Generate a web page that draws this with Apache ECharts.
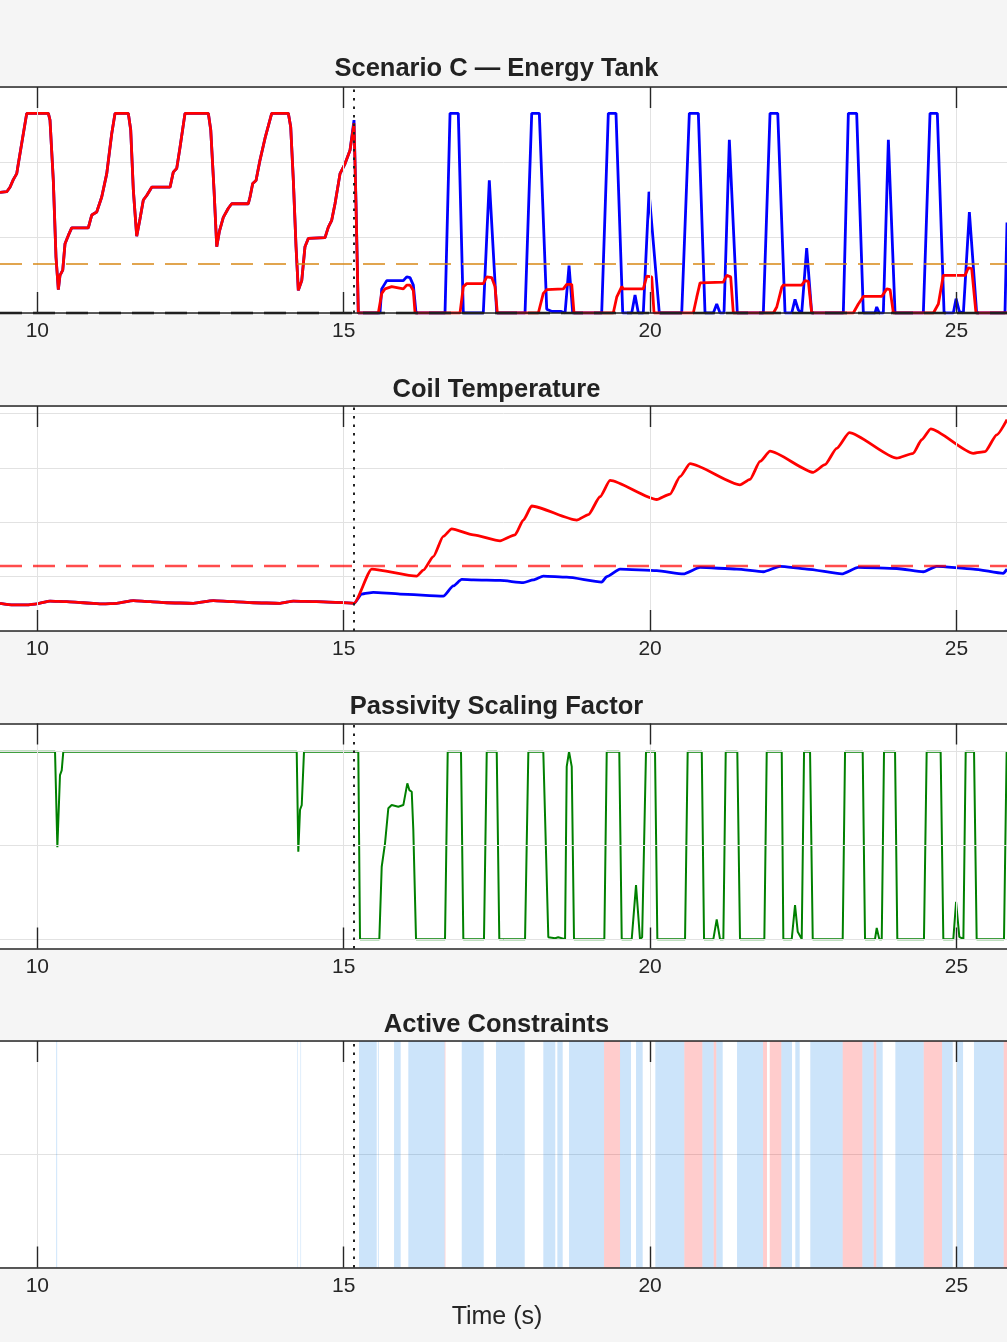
<!DOCTYPE html>
<html>
<head>
<meta charset="utf-8">
<script src="https://cdn.jsdelivr.net/npm/echarts@6/dist/echarts.min.js"></script>
<style>
html,body{margin:0;padding:0;background:#f5f5f5;}
#chart{width:1007px;height:1342px;}
</style>
</head>
<body>
<div id="chart"></div>
<script>
// ---------------- data ----------------
const timeTicks = [10, 15, 20, 25];
const timeMin = 9.391;
const timeMax = 25.824;
const switchTime = 15.168;

const panelTitles = ['Scenario C \u2014 Energy Tank', 'Coil Temperature', 'Passivity Scaling Factor', 'Active Constraints'];
const xAxisName = 'Time (s)';

// Energy tank (both runs identical before the switch)
const tankSharedBefore = [[9.391,1.60],[9.501,1.61],[9.554,1.67],[9.608,1.77],[9.664,1.85],[9.690,1.98],[9.745,2.25],[9.827,2.65],[10.180,2.65],[10.207,2.56],[10.261,1.76],[10.305,0.74],[10.343,0.31],[10.370,0.50],[10.415,0.57],[10.452,0.92],[10.506,1.03],[10.561,1.13],[10.832,1.13],[10.888,1.30],[10.969,1.34],[11.051,1.54],[11.133,1.85],[11.214,2.38],[11.268,2.65],[11.485,2.65],[11.524,2.43],[11.567,1.63],[11.622,1.02],[11.676,1.25],[11.730,1.50],[11.785,1.56],[11.867,1.67],[12.166,1.67],[12.219,1.87],[12.275,1.92],[12.329,2.20],[12.410,2.65],[12.791,2.65],[12.830,2.43],[12.884,1.63],[12.928,0.88],[12.970,1.08],[13.035,1.27],[13.117,1.39],[13.172,1.45],[13.443,1.45],[13.471,1.54],[13.515,1.72],[13.569,1.76],[13.634,2.03],[13.716,2.32],[13.825,2.65],[14.096,2.65],[14.135,2.47],[14.178,1.76],[14.222,0.88],[14.259,0.30],[14.315,0.43],[14.368,0.88],[14.422,0.99],[14.450,1.00],[14.695,1.00],[14.749,1.14],[14.804,1.23],[14.858,1.45],[14.940,1.85],[15.021,1.98],[15.103,2.16]];
const tankBlueAfter = [[15.168,2.56],[15.201,1.45],[15.238,0],[15.592,0],[15.620,0.32],[15.702,0.43],[15.728,0.43],[15.973,0.43],[16.028,0.48],[16.082,0.47],[16.136,0.37],[16.180,0],[16.653,0],[16.735,2.65],[16.870,2.65],[16.952,0],[17.278,0],[17.376,1.76],[17.497,0],[17.959,0],[18.068,2.65],[18.192,2.65],[18.313,0.05],[18.400,0.02],[18.550,0.02],[18.612,0],[18.677,0.63],[18.737,0],[19.210,0],[19.318,2.65],[19.443,2.65],[19.553,0],[19.700,0],[19.754,0.24],[19.808,0],[19.889,0],[19.982,1.61],[20.150,0],[20.516,0],[20.640,2.65],[20.787,2.65],[20.896,0],[21.032,0],[21.087,0.12],[21.141,0],[21.206,0],[21.293,2.30],[21.423,0],[21.848,0],[21.957,2.65],[22.083,2.65],[22.202,0],[22.311,0],[22.365,0.18],[22.419,0.04],[22.474,0],[22.555,0.86],[22.637,0],[23.153,0],[23.235,2.65],[23.371,2.65],[23.480,0],[23.670,0],[23.698,0.08],[23.740,0],[23.806,0],[23.888,2.30],[23.997,0],[24.459,0],[24.568,2.65],[24.687,2.65],[24.797,0],[24.948,0],[24.993,0.19],[25.046,0.02],[25.112,0],[25.210,1.34],[25.329,0],[25.791,0],[25.824,1.20]];
const tankRedAfter = [[15.168,2.52],[15.201,1.41],[15.238,0],[15.565,0],[15.620,0.26],[15.674,0.32],[15.783,0.35],[15.973,0.32],[16.028,0.37],[16.082,0.37],[16.136,0.30],[16.164,0],[16.898,0],[16.952,0.35],[17.007,0.39],[17.278,0.39],[17.334,0.48],[17.415,0.47],[17.469,0.35],[17.507,0],[18.176,0],[18.257,0.26],[18.313,0.31],[18.584,0.32],[18.639,0.38],[18.721,0.38],[18.758,0],[19.399,0],[19.455,0.21],[19.537,0.35],[19.563,0.32],[19.889,0.32],[19.945,0.49],[20.026,0.48],[20.064,0],[20.705,0],[20.761,0.21],[20.815,0.40],[20.843,0.41],[21.195,0.41],[21.250,0.50],[21.315,0.48],[21.358,0],[22.012,0],[22.067,0.08],[22.148,0.34],[22.174,0.37],[22.474,0.37],[22.528,0.43],[22.582,0.42],[22.637,0],[23.316,0],[23.398,0.12],[23.480,0.22],[23.507,0.22],[23.780,0.22],[23.862,0.32],[23.916,0.31],[23.970,0],[24.623,0],[24.704,0.12],[24.785,0.50],[24.813,0.50],[25.140,0.50],[25.193,0.60],[25.248,0.59],[25.318,0],[25.824,0]];
const tankThreshold = 0.664;
const tankFloor = 0;

// Coil temperature
const coilSharedBefore = [[9.391,25.1],[9.608,24.8],[9.827,24.8],[9.990,25.0],[10.207,25.5],[10.480,25.4],[10.751,25.2],[11.078,25.0],[11.296,25.1],[11.567,25.6],[11.839,25.4],[12.111,25.2],[12.546,25.1],[12.872,25.6],[13.199,25.4],[13.525,25.2],[13.961,25.1],[14.178,25.5],[14.559,25.4],[15.168,25.1]];
const coilBlueAfter = [[15.294,26.8],[15.483,27.1],[15.919,26.8],[16.625,26.4],[16.788,28.3],[16.925,29.5],[17.115,29.4],[17.551,29.3],[17.931,28.9],[18.094,29.4],[18.257,30.1],[18.639,29.9],[19.210,29.0],[19.292,30.0],[19.509,31.4],[20.108,31.1],[20.542,30.5],[20.815,31.7],[21.413,31.4],[21.848,30.9],[22.120,31.9],[22.555,31.4],[23.127,30.5],[23.398,31.7],[24.024,31.5],[24.459,30.9],[24.677,31.9],[25.274,31.4],[25.764,30.6],[25.824,31.4]];
const coilRedAfter = [[15.457,31.4],[16.191,30.1],[16.299,31.2],[16.462,33.7],[16.625,37.4],[16.762,38.8],[17.115,37.7],[17.551,36.6],[17.796,37.7],[17.931,40.4],[18.068,43.0],[18.802,40.4],[18.992,41.4],[19.183,44.7],[19.346,47.7],[20.108,44.2],[20.325,45.2],[20.488,48.4],[20.651,50.8],[21.467,46.9],[21.630,47.9],[21.794,51.2],[21.957,53.1],[22.663,49.2],[22.854,50.6],[23.045,53.6],[23.251,56.5],[24.024,51.8],[24.295,52.7],[24.432,55.2],[24.579,57.2],[25.274,52.7],[25.465,53.0],[25.656,56.1],[25.824,58.9]];
const coilLimit = 32.0;

// Passivity scaling factor
const passivity = [[9.391,1],[10.289,1],[10.327,0.49],[10.334,0.484],[10.370,0.875],[10.398,0.90],[10.424,1],[14.233,1],[14.259,0.466],[14.287,0.69],[14.315,0.715],[14.352,1],[15.238,1],[15.266,0],[15.581,0],[15.620,0.386],[15.674,0.511],[15.728,0.698],[15.783,0.715],[15.891,0.706],[15.973,0.715],[16.038,0.831],[16.071,0.795],[16.110,0.786],[16.136,0.58],[16.180,0],[16.653,0],[16.697,1],[16.914,1],[16.952,0],[17.289,0],[17.334,1],[17.497,1],[17.539,0],[17.959,0],[18.013,1],[18.257,1],[18.339,0.01],[18.45,0.005],[18.50,0.01],[18.612,0],[18.639,0.92],[18.677,1],[18.721,0.92],[18.758,0],[19.253,0],[19.292,1],[19.497,1],[19.537,0],[19.700,0],[19.770,0.288],[19.835,0],[19.87,0.01],[19.900,0],[19.933,1],[20.080,1],[20.118,0],[20.570,0],[20.613,1],[20.843,1],[20.880,0],[21.032,0],[21.087,0.105],[21.141,0],[21.195,0],[21.234,1],[21.423,1],[21.467,0],[21.864,0],[21.903,1],[22.148,1],[22.174,0],[22.311,0],[22.365,0.181],[22.409,0.039],[22.474,0],[22.512,1],[22.610,1],[22.654,0],[23.143,0],[23.181,1],[23.469,1],[23.507,0],[23.670,0],[23.698,0.06],[23.740,0],[23.780,0],[23.817,1],[23.997,1],[24.034,0],[24.469,0],[24.513,1],[24.741,1],[24.785,0],[24.948,0],[24.993,0.199],[25.046,0.012],[25.112,0],[25.150,1],[25.286,1],[25.329,0],[25.775,0],[25.818,1],[25.824,1]];

// Active constraint intervals [start, end]
const constraintTank = [[10.308,10.324],[14.243,14.253],[14.294,14.304],[15.250,15.539],[15.558,15.572],[15.821,15.930],[16.054,16.648],[16.926,17.285],[17.485,17.954],[18.257,18.453],[18.486,18.574],[18.677,19.248],[19.509,19.688],[19.770,19.879],[20.085,20.558],[20.852,21.038],[21.080,21.185],[21.418,21.843],[22.141,22.316],[22.369,22.441],[22.614,23.143],[23.463,23.649],[23.691,23.796],[24.002,24.465],[24.764,24.939],[24.993,25.107],[25.285,25.770]];
const constraintThermal = [[16.648,16.660],[19.248,19.509],[20.558,20.852],[21.038,21.080],[21.843,21.908],[21.952,22.141],[23.143,23.463],[23.649,23.691],[24.465,24.764],[25.770,25.824]];

// ---------------- layout / style ----------------
const FONT = '"Liberation Sans", Arial, Helvetica, sans-serif';
const gridTops = [87, 406, 723.5, 1041];
const gridHeights = [226, 225, 225, 226.5];
const yRanges = [[0, 3, 1], [20, 61.4, 10], [-0.05, 1.15, null], [0, 1, 0.5]];
const titleY = [68.5, 389.5, 707, 1024.5];
const AX = '#262626';
const GRIDC = '#e2e2e2';

const grids = [], xAxes = [], yAxes = [], series = [], graphics = [];

for (let i = 0; i < 4; i++) {
  grids.push({left: 0, right: 0, top: gridTops[i], height: gridHeights[i], show: true,
    backgroundColor: '#ffffff', borderWidth: 0, containLabel: false});
  xAxes.push({
    type: 'value', gridIndex: i, position: 'bottom', min: timeMin, max: timeMax, z: 10,
    axisLine: {show: true, onZero: false, lineStyle: {color: AX, width: 1.6}},
    axisTick: {show: true, inside: true, length: 21, customValues: timeTicks, lineStyle: {color: AX, width: 1.4}},
    axisLabel: {show: true, customValues: timeTicks, showMinLabel: true, showMaxLabel: true,
      color: AX, fontSize: 21, fontFamily: FONT, margin: 8,
      formatter: v => (timeTicks.indexOf(v) >= 0 ? String(v) : '')},
    splitLine: {show: false}
  });
  xAxes.push({
    type: 'value', gridIndex: i, position: 'top', min: timeMin, max: timeMax, z: 10,
    axisLine: {show: true, onZero: false, lineStyle: {color: AX, width: 1.6}},
    axisTick: {show: true, inside: true, length: 21, customValues: timeTicks, lineStyle: {color: AX, width: 1.4}},
    axisLabel: {show: false}, splitLine: {show: false}
  });
  const yr = yRanges[i];
  yAxes.push({
    type: 'value', gridIndex: i, min: yr[0], max: yr[1],
    interval: yr[2] === null ? undefined : yr[2],
    axisLine: {show: false}, axisTick: {show: false}, axisLabel: {show: false},
    splitLine: {show: yr[2] !== null, lineStyle: {color: GRIDC, width: 1}}
  });
  // reference grid lines on the time axis (and y for the passivity panel)
  const gl = timeTicks.map(t => ({xAxis: t}));
  if (i === 2) { [0, 0.5, 1].forEach(v => gl.push({yAxis: v})); }
  series.push({
    type: 'line', name: 'grid' + i, xAxisIndex: 2 * i, yAxisIndex: i, data: [], silent: true, z: 1,
    markLine: {symbol: ['none', 'none'], silent: true, animation: false, label: {show: false},
      lineStyle: {color: GRIDC, width: 1, type: 'solid'}, data: gl}
  });
  graphics.push({type: 'text', x: 496.5, y: titleY[i], silent: true,
    style: {text: panelTitles[i], font: 'bold 25.5px ' + FONT, fill: '#222222',
      align: 'center', verticalAlign: 'middle', textAlign: 'center', textVerticalAlign: 'middle'}});
}
graphics.push({type: 'text', x: 497, y: 1317, silent: true,
  style: {text: xAxisName, font: '25px ' + FONT, fill: AX,
    align: 'center', verticalAlign: 'middle', textAlign: 'center', textVerticalAlign: 'middle'}});

const dotted = {xAxis: switchTime, lineStyle: {color: '#222', width: 2, type: [2.5, 6]}};
function lineSeries(name, i, data, color, width, z, smooth) {
  return {type: 'line', name: name, xAxisIndex: 2 * i, yAxisIndex: i, data: data,
    showSymbol: false, symbol: 'none', smooth: smooth || false, smoothMonotone: 'x', z: z || 3, animation: false,
    lineStyle: {color: color, width: width}, itemStyle: {color: color}};
}

// Panel 1
series.push(lineSeries('Tank energy (unconstrained)', 0, tankSharedBefore.concat(tankBlueAfter), '#0000ff', 2.8, 3));
series.push(lineSeries('Tank energy (thermal-aware)', 0, tankSharedBefore.concat(tankRedAfter), '#ff0000', 2.8, 4));
series.push({type: 'line', name: 'ref0', xAxisIndex: 0, yAxisIndex: 0, data: [], silent: true, z: 11,
  markLine: {symbol: ['none', 'none'], silent: true, animation: false, label: {show: false}, data: [
    {yAxis: tankThreshold, lineStyle: {color: 'rgba(215,135,20,0.75)', width: 2.2, type: [22, 11]}},
    {yAxis: tankFloor, lineStyle: {color: '#111', width: 2.4, type: [22, 11]}},
    dotted]}});

// Panel 2
series.push(lineSeries('Coil temp (tank)', 1, coilSharedBefore.concat(coilBlueAfter), '#0000ff', 2.8, 3, 0.2));
series.push(lineSeries('Coil temp (thermal)', 1, coilSharedBefore.concat(coilRedAfter), '#ff0000', 2.8, 4, 0.2));
series.push({type: 'line', name: 'ref1', xAxisIndex: 2, yAxisIndex: 1, data: [], silent: true, z: 5,
  markLine: {symbol: ['none', 'none'], silent: true, animation: false, label: {show: false}, data: [
    {yAxis: coilLimit, lineStyle: {color: 'rgba(255,0,0,0.7)', width: 2.4, type: [22, 11]}},
    dotted]}});

// Panel 3
series.push(lineSeries('Passivity factor', 2, passivity, '#008000', 2, 3));
series.push({type: 'line', name: 'ref2', xAxisIndex: 4, yAxisIndex: 2, data: [], silent: true, z: 5,
  markLine: {symbol: ['none', 'none'], silent: true, animation: false, label: {show: false}, data: [dotted]}});

// Panel 4
series.push({type: 'line', name: 'Tank constraint', xAxisIndex: 6, yAxisIndex: 3, data: [], silent: true, z: 2,
  markArea: {silent: true, animation: false, itemStyle: {color: 'rgba(0,120,230,0.2)'},
    data: constraintTank.map(d => [{xAxis: d[0]}, {xAxis: d[1]}])}});
series.push({type: 'line', name: 'Thermal constraint', xAxisIndex: 6, yAxisIndex: 3, data: [], silent: true, z: 2,
  markArea: {silent: true, animation: false, itemStyle: {color: 'rgba(255,0,0,0.2)'},
    data: constraintThermal.map(d => [{xAxis: d[0]}, {xAxis: d[1]}])}});
series.push({type: 'line', name: 'ref3', xAxisIndex: 6, yAxisIndex: 3, data: [], silent: true, z: 5,
  markLine: {symbol: ['none', 'none'], silent: true, animation: false, label: {show: false}, data: [dotted]}});

const chart = echarts.init(document.getElementById('chart'), null, {renderer: 'canvas'});
chart.setOption({
  backgroundColor: '#f5f5f5',
  animation: false,
  textStyle: {fontFamily: FONT},
  grid: grids, xAxis: xAxes, yAxis: yAxes, series: series,
  graphic: graphics
});
</script>
</body>
</html>
